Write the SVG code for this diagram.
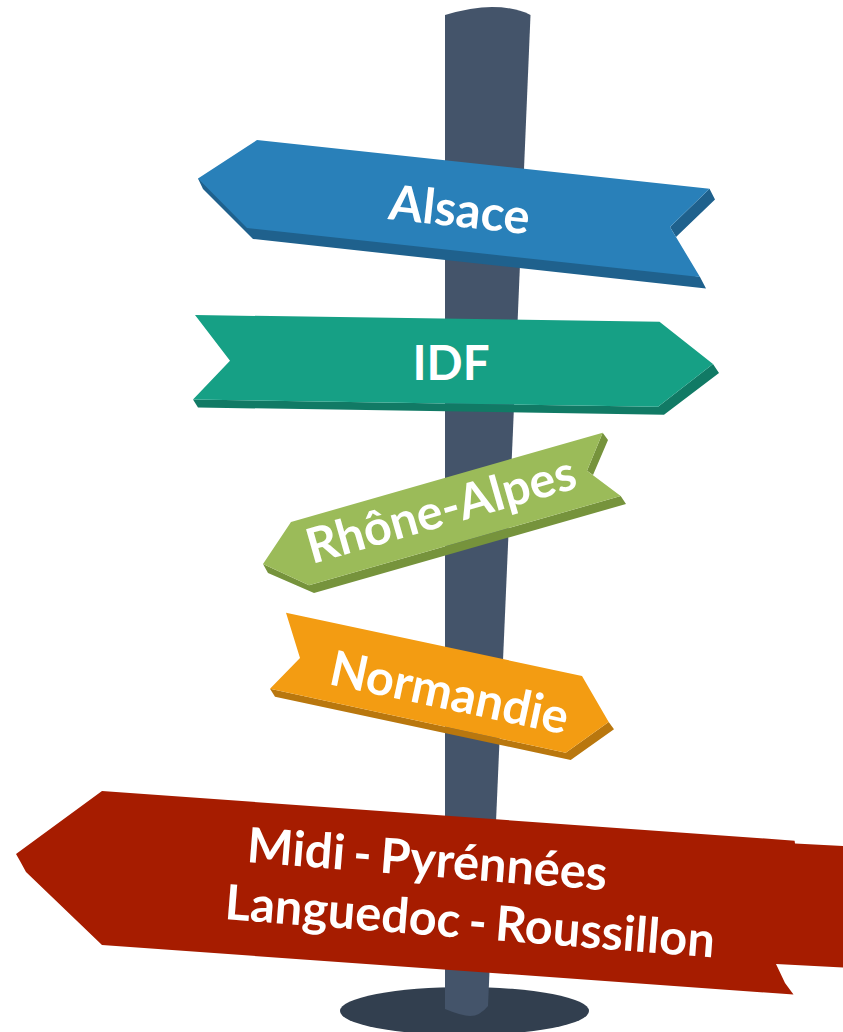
<svg xmlns="http://www.w3.org/2000/svg" width="843" height="1032" viewBox="0 0 843 1032">
<style>
text{font-family:Lato,"Liberation Sans",sans-serif;font-weight:700;fill:#fff}
.t{font-size:48.800px}
.m{font-size:48.700px;word-spacing:-3.200px}
.pole{fill:#44546a}.base{fill:#323f4f}
</style>
<rect width="843" height="1032" fill="#fff"/>
<g id="pole">
<ellipse class="base" cx="464.500" cy="1011" rx="124.500" ry="24"/>
<path class="pole" d="M445 15Q472 7 492 7Q515 7 530.500 15L513 430L488 1006Q480 1016 470 1016Q462 1016 445 1009Z"/>
</g>
<g id="sign-alsace">
<path fill="#1f618d" d="M198 178.500L203 189L253 239L706 288.500L700 277ZM709.500 188.700L715 199.500L676 237L670 227Z"/>
<path fill="#2980b9" d="M257 140L709.500 188.700L670 227L700 277L247 228L198 178.500Z"/>
<text class="t" transform="translate(387.500 219) rotate(6.200)">Alsace</text>
</g>
<g id="sign-idf">
<path fill="#117a65" d="M193 399.500L198 407.500L664 414.700L719 373L713 364L658 406.700Z"/>
<path fill="#16a085" d="M195 315L659.500 321.700L713 364L658 406.700L193 399.500L230 360.700Z"/>
<text style="font-size:47.500px" x="412.500" y="380">IDF</text>
</g>
<g id="sign-rhone-alpes">
<path fill="#76933c" d="M263 564L268 573L314 593L626 504L620.700 496L309 585.300ZM602.700 432.700L608 440L593 475L587 470.700Z"/>
<path fill="#9bbb59" d="M602.700 432.700L587 470.700L620.700 496L309 585.300L263 564L291 522Z"/>
<text style="font-size:48.500px" transform="translate(312 564) rotate(-16)">Rhône-Alpes</text>
</g>
<g id="sign-normandie">
<path fill="#b9770e" d="M270 688.700L275 696.700L570.700 760L614 729.300L608.700 722L565.700 752.700Z"/>
<path fill="#f39c12" d="M286 612.700L582 676L608.700 722L565.700 752.700L270 688.700L300 658Z"/>
<text style="font-size:48.800px" transform="translate(327.500 684) rotate(12)">Normandie</text>
</g>
<g id="sign-midi">
<path fill="#a61c00" d="M102 791L794.600 840.700L795 843.500L843 846V967.500L776 964L785 983L793.500 994.500L102 945L26 872L20 861L16 854Z"/>
<text class="m" transform="translate(246 862) rotate(4.500)">Midi - Pyrénnées</text>
<text class="m" transform="translate(224 919) rotate(4.500)">Languedoc - Roussillon</text>
</g>
</svg>
